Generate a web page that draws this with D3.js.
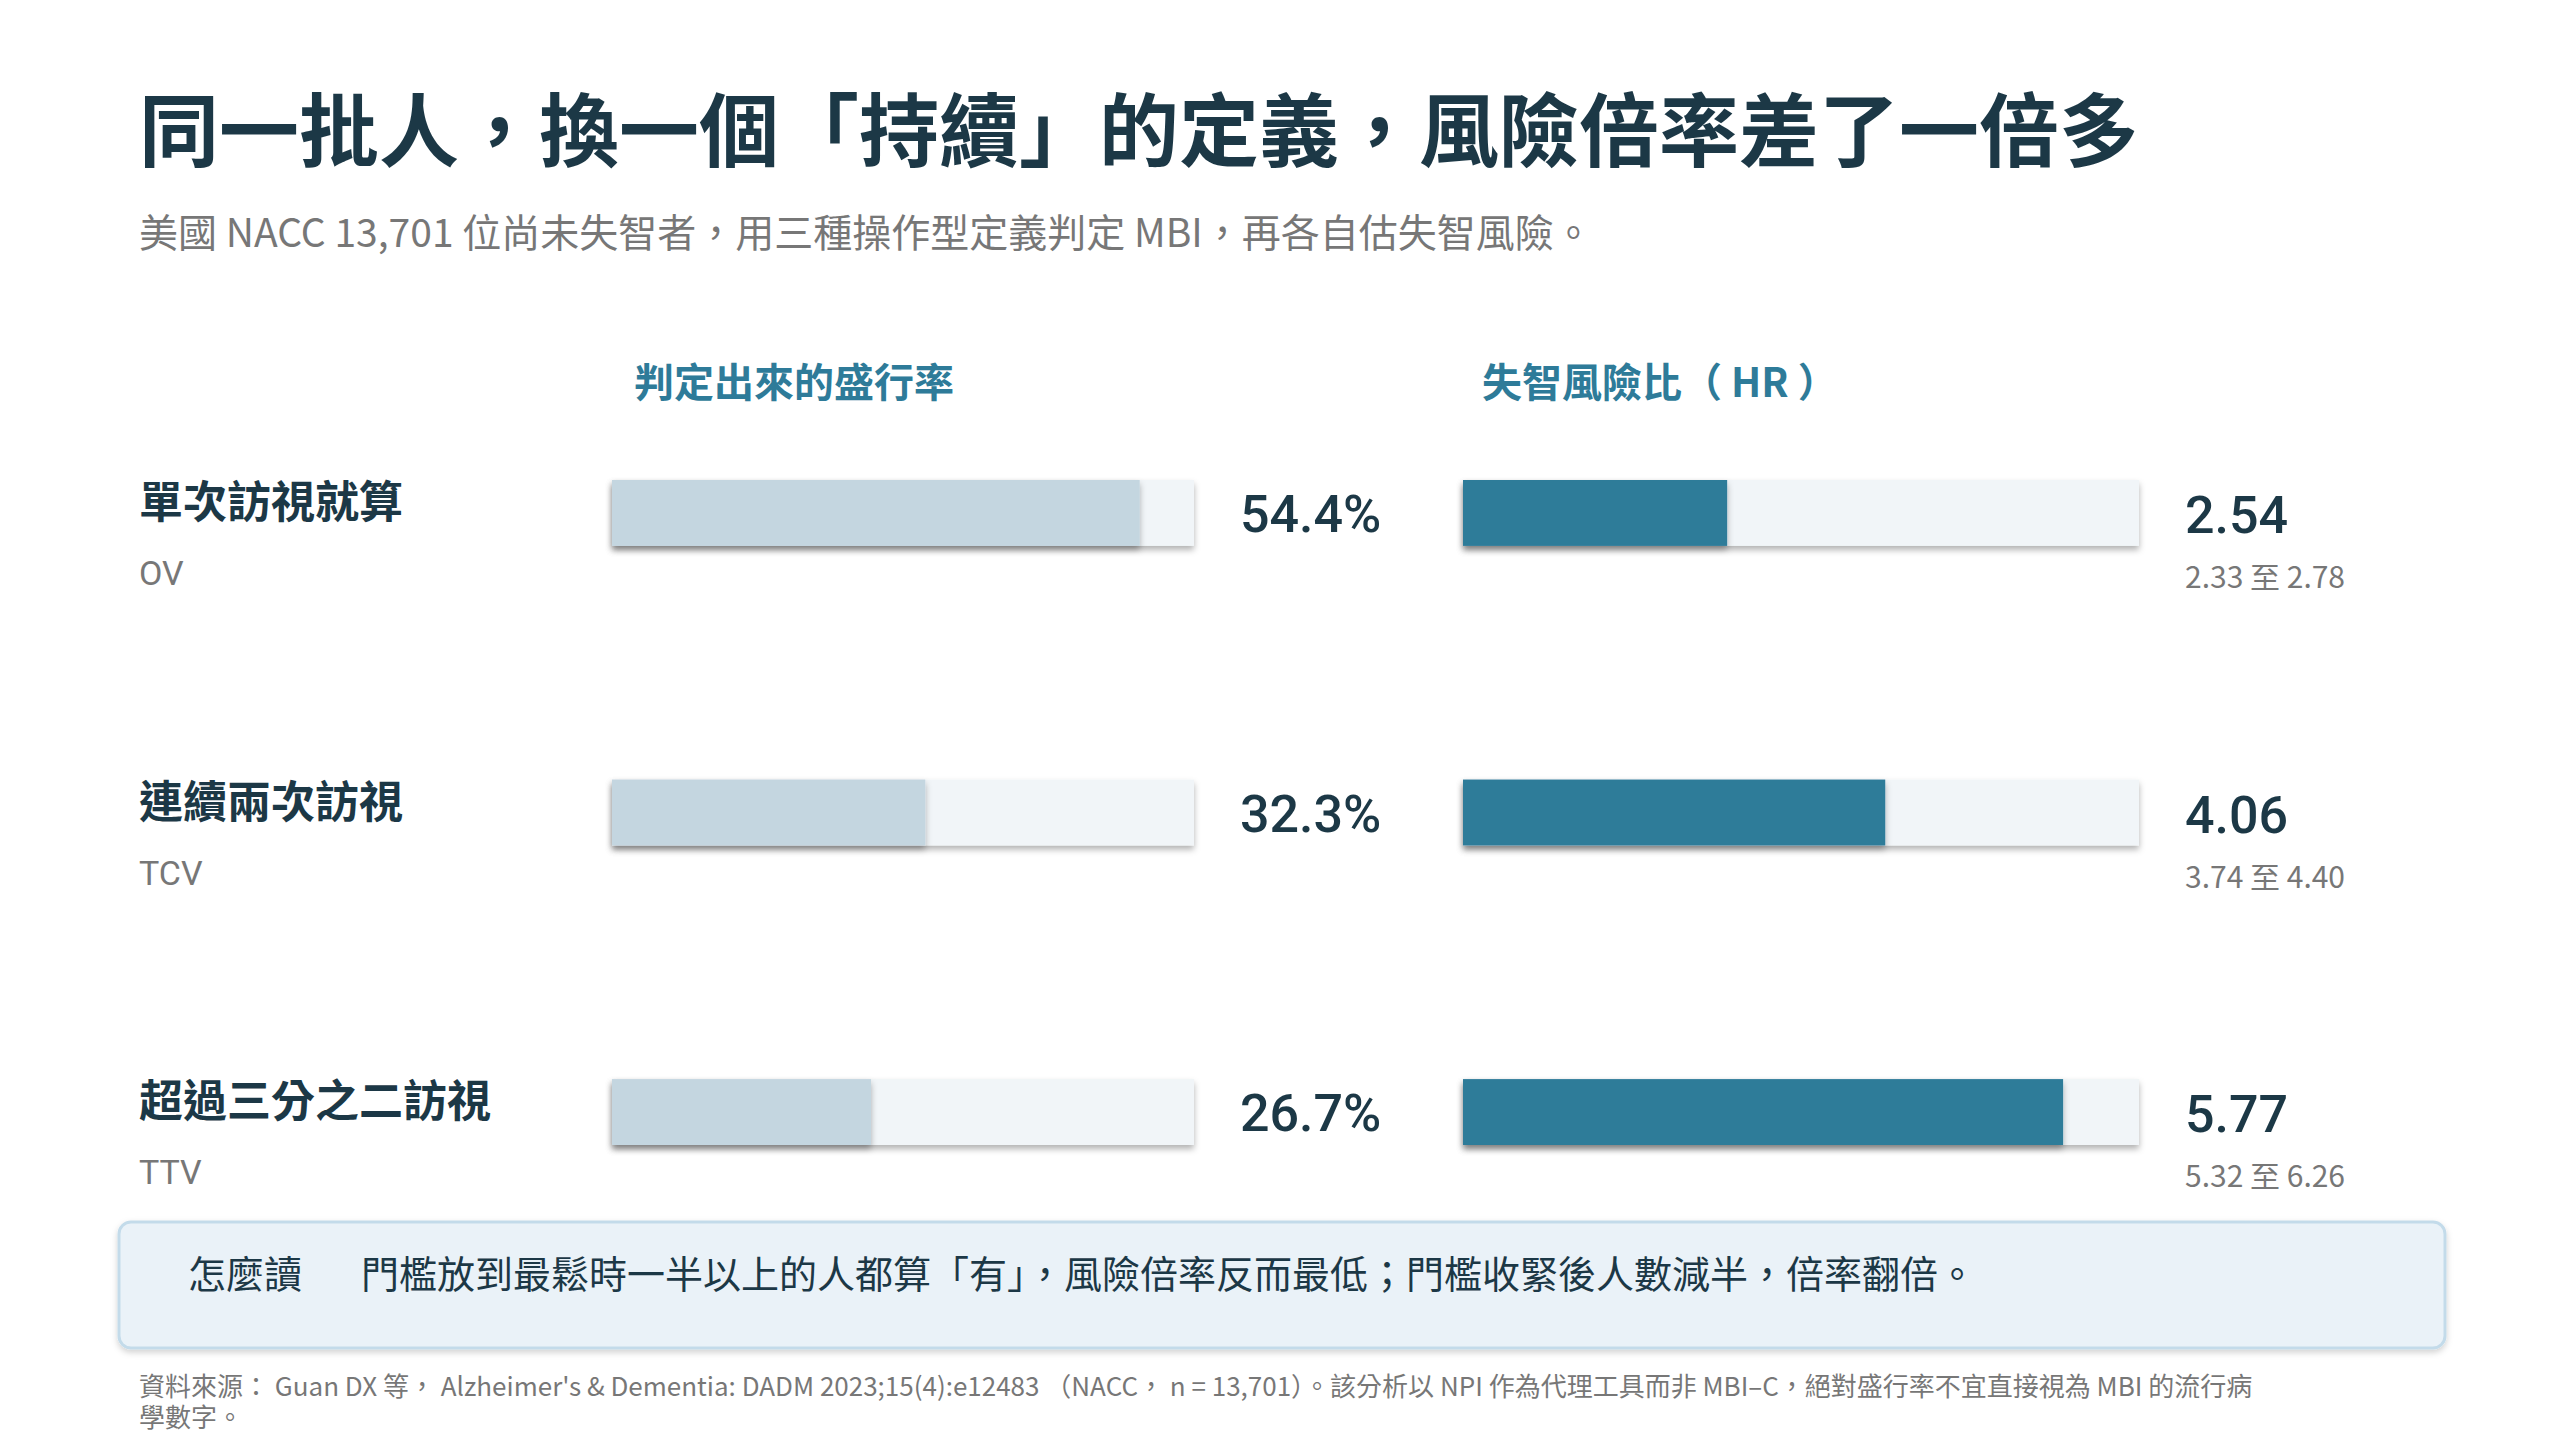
<!DOCTYPE html>
<html><head><meta charset="utf-8">
<script src="https://cdn.jsdelivr.net/npm/d3@7"></script>
<style>
body{margin:0;background:#fff;}
svg{font-family:"Noto Sans CJK TC","Noto Sans",sans-serif;}
</style></head>
<body><svg id="chart" width="2560" height="1440"></svg>
<script>
const categories = ["單次訪視就算", "連續兩次訪視", "超過三分之二訪視"];
const codes = ["OV", "TCV", "TTV"];
const prevalence = [54.4, 32.3, 26.7];
const hr = [2.54, 4.06, 5.77];
const hrLow = [2.33, 3.74, 5.32];
const hrHigh = [2.78, 4.40, 6.26];

const svg = d3.select("#chart");
const dark = "#1c3846", teal = "#2e7b99", gray = "#777";

const defs = svg.append("defs");
const f = defs.append("filter").attr("id", "sh").attr("x", "-5%").attr("y", "-10%").attr("width", "110%").attr("height", "130%");
f.append("feDropShadow").attr("dx", 0).attr("dy", 4).attr("stdDeviation", 3).attr("flood-color", "#000").attr("flood-opacity", 0.3);
const f2 = defs.append("filter").attr("id", "sh2").attr("x", "-5%").attr("y", "-20%").attr("width", "110%").attr("height", "150%");
f2.append("feDropShadow").attr("dx", 0).attr("dy", 3).attr("stdDeviation", 3).attr("flood-color", "#000").attr("flood-opacity", 0.18);

svg.append("text").attr("x", 139).attr("y", 160).attr("font-size", 80).attr("font-weight", 700).attr("fill", dark)
  .text("同一批人，換一個「持續」的定義，風險倍率差了一倍多");
svg.append("text").attr("x", 139).attr("y", 247).attr("font-size", 39).attr("fill", gray)
  .text("美國  NACC 13,701  位尚未失智者，用三種操作型定義判定  MBI，再各自估失智風險。");

svg.append("text").attr("x", 634).attr("y", 397).attr("font-size", 40).attr("font-weight", 700).attr("fill", teal).text("判定出來的盛行率");
svg.append("text").attr("x", 1482).attr("y", 397).attr("font-size", 40).attr("font-weight", 700).attr("fill", teal).text("失智風險比（ HR ）");

const y = d3.scaleBand().domain(categories).range([480, 1145]).paddingInner(0.78);
const xp = d3.scaleLinear().domain([0, 60]).range([612, 1194]);
const xh = d3.scaleLinear().domain([0, 6.5]).range([1463, 2139]);

const rows = svg.selectAll(".row").data(categories).enter().append("g").attr("class", "row");

rows.append("text").attr("x", 139).attr("y", d => y(d) + 38).attr("font-size", 44).attr("font-weight", 700).attr("fill", dark).text(d => d);
rows.append("text").attr("x", 139).attr("y", d => y(d) + 105).attr("font-size", 34).attr("fill", gray)
  .attr("font-family", "Roboto, sans-serif").text((d, i) => codes[i]);

// prevalence bars
rows.append("rect").attr("x", xp(0)).attr("y", d => y(d)).attr("width", xp(60) - xp(0)).attr("height", y.bandwidth())
  .attr("fill", "#f1f5f8").attr("filter", "url(#sh)");
rows.append("rect").attr("x", xp(0)).attr("y", d => y(d)).attr("width", (d, i) => xp(prevalence[i]) - xp(0)).attr("height", y.bandwidth())
  .attr("fill", "#c4d6e0").attr("filter", "url(#sh)");
rows.append("text").attr("x", 1240).attr("y", d => y(d) + y.bandwidth() / 2 + 19).attr("font-size", 52).attr("font-weight", 500)
  .attr("font-family", "Roboto, sans-serif").attr("fill", dark).text((d, i) => prevalence[i].toFixed(1) + "%");

// HR bars
rows.append("rect").attr("x", xh(0)).attr("y", d => y(d)).attr("width", xh(6.5) - xh(0)).attr("height", y.bandwidth())
  .attr("fill", "#f1f5f8").attr("filter", "url(#sh)");
rows.append("rect").attr("x", xh(0)).attr("y", d => y(d)).attr("width", (d, i) => xh(hr[i]) - xh(0)).attr("height", y.bandwidth())
  .attr("fill", teal).attr("filter", "url(#sh)");
rows.append("text").attr("x", 2185).attr("y", d => y(d) + 53).attr("font-size", 52).attr("font-weight", 500)
  .attr("font-family", "Roboto, sans-serif").attr("fill", dark).text((d, i) => hr[i].toFixed(2));
rows.append("text").attr("x", 2185).attr("y", d => y(d) + 108).attr("font-size", 30).attr("fill", gray)
  .text((d, i) => hrLow[i].toFixed(2) + "  至  " + hrHigh[i].toFixed(2));

// callout
svg.append("rect").attr("x", 119).attr("y", 1222).attr("width", 2326).attr("height", 126).attr("rx", 12)
  .attr("fill", "#eaf2f8").attr("stroke", "#c3dbea").attr("stroke-width", 3).attr("filter", "url(#sh2)");
svg.append("text").attr("x", 188).attr("y", 1288).attr("font-size", 38).attr("fill", dark).text("怎麼讀");
svg.append("text").attr("x", 361).attr("y", 1288).attr("font-size", 38).attr("fill", dark)
  .text("門檻放到最鬆時一半以上的人都算「有」，風險倍率反而最低；門檻收緊後人數減半，倍率翻倍。");

svg.append("text").attr("x", 139).attr("y", 1396).attr("font-size", 26).attr("fill", gray)
  .text("資料來源：  Guan DX  等，  Alzheimer's & Dementia: DADM 2023;15(4):e12483  （NACC，  n = 13,701）。該分析以  NPI  作為代理工具而非  MBI–C，絕對盛行率不宜直接視為  MBI  的流行病");
svg.append("text").attr("x", 139).attr("y", 1427).attr("font-size", 26).attr("fill", gray).text("學數字。");
</script></body></html>
